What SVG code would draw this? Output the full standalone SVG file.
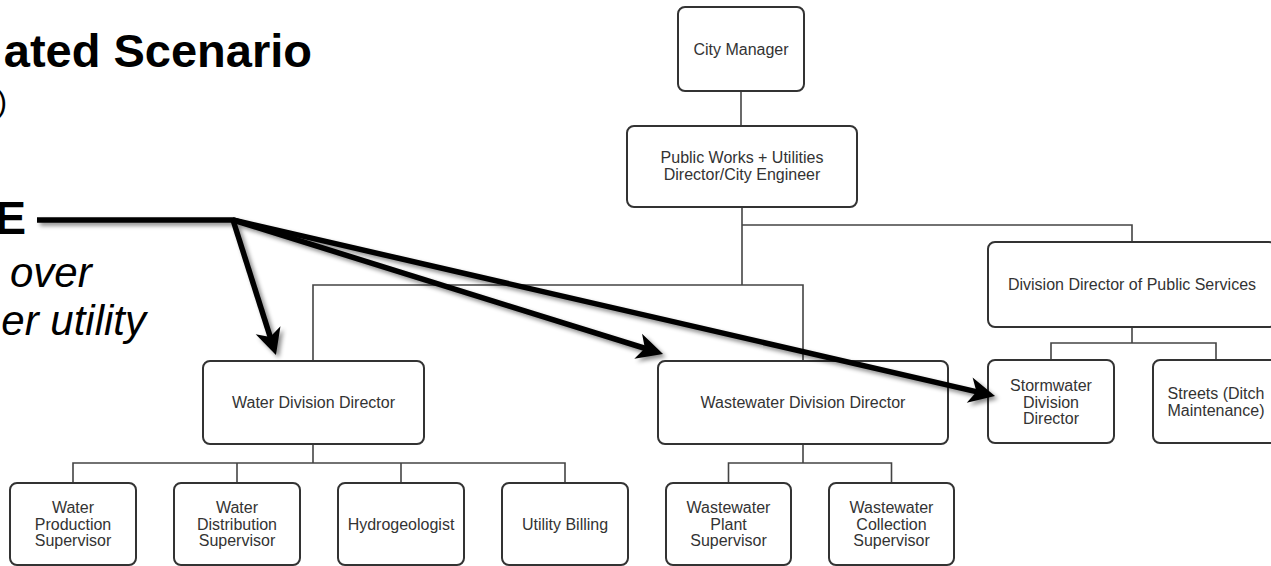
<svg xmlns="http://www.w3.org/2000/svg" width="1271" height="566" viewBox="0 0 1271 566">
<style>
.box{fill:#fff;stroke:#333;stroke-width:2}
.lbl{font-family:"Liberation Sans",Arial,sans-serif;font-size:16px;fill:#333;text-anchor:middle}
.conn{fill:none;stroke:#444;stroke-width:1.6}
.big{font-family:"Liberation Sans",Arial,sans-serif;font-weight:bold;font-size:47px;fill:#000}
.ital{font-family:"Liberation Sans",Arial,sans-serif;font-style:italic;font-size:42px;fill:#000}
.arr{fill:none;stroke:#000;stroke-width:5.5}
</style>
<defs>
<filter id="sh" x="-20%" y="-20%" width="140%" height="140%">
<feDropShadow dx="3" dy="3" stdDeviation="2" flood-color="#000" flood-opacity="0.45"/>
</filter>
<marker id="ah" markerUnits="userSpaceOnUse" viewBox="-14 -15 32 30" refX="0" refY="0" markerWidth="32" markerHeight="30" orient="auto">
<path d="M15,0 L-11,-13 L-4,0 L-11,13 Z" fill="#000"/>
</marker>
</defs>

<text class="big" x="312" y="67" text-anchor="end">ated Scenario</text>
<text x="-3" y="112" style="font-family:'Liberation Sans',Arial,sans-serif;font-size:30px;fill:#000">)</text>
<text class="big" x="26" y="234" text-anchor="end">E</text>
<text class="ital" x="10" y="287">over</text>
<text class="ital" x="146" y="335" text-anchor="end">er utility</text>

<g id="connectors">
<line class="conn" x1="741" y1="91" x2="741" y2="126"/>
<polyline class="conn" points="742,207 742,285"/>
<polyline class="conn" points="742,225 1132,225 1132,242"/>
<polyline class="conn" points="313,360 313,285 803,285 803,361"/>
<polyline class="conn" points="1132,327 1132,343"/>
<polyline class="conn" points="1051,360 1051,343 1216,343 1216,360"/>
<polyline class="conn" points="313,444 313,463"/>
<polyline class="conn" points="73,483 73,463 565,463 565,483"/>
<line class="conn" x1="237" y1="463" x2="237" y2="483"/>
<line class="conn" x1="401" y1="463" x2="401" y2="483"/>
<polyline class="conn" points="803,444 803,463"/>
<polyline class="conn" points="728.5,483 728.5,463 891.5,463 891.5,483"/>
</g>

<g id="n-city"><rect class="box" x="678" y="7" width="126" height="84" rx="7"/><text class="lbl" x="741" y="55">City Manager</text></g>
<g id="n-pw"><rect class="box" x="627" y="126" width="230" height="81" rx="7"/><text class="lbl" x="742" y="163">Public Works + Utilities</text><text class="lbl" x="742" y="180">Director/City Engineer</text></g>
<g id="n-ddps"><rect class="box" x="988" y="242" width="288" height="85" rx="7"/><text class="lbl" x="1132" y="290">Division Director of Public Services</text></g>
<g id="n-storm"><rect class="box" x="988" y="360" width="126" height="83" rx="7"/><text class="lbl" x="1051" y="391">Stormwater</text><text class="lbl" x="1051" y="407.5">Division</text><text class="lbl" x="1051" y="424">Director</text></g>
<g id="n-streets"><rect class="box" x="1153" y="360" width="126" height="83" rx="7"/><text class="lbl" x="1216" y="399">Streets (Ditch</text><text class="lbl" x="1216" y="415.5">Maintenance)</text></g>
<g id="n-water"><rect class="box" x="203" y="361" width="221" height="83" rx="7"/><text class="lbl" x="313.5" y="408">Water Division Director</text></g>
<g id="n-ww"><rect class="box" x="658" y="361" width="290" height="83" rx="7"/><text class="lbl" x="803" y="408">Wastewater Division Director</text></g>
<g id="n-wprod"><rect class="box" x="10" y="483" width="126" height="82" rx="7"/><text class="lbl" x="73" y="513">Water</text><text class="lbl" x="73" y="529.5">Production</text><text class="lbl" x="73" y="546">Supervisor</text></g>
<g id="n-wdist"><rect class="box" x="174" y="483" width="126" height="82" rx="7"/><text class="lbl" x="237" y="513">Water</text><text class="lbl" x="237" y="529.5">Distribution</text><text class="lbl" x="237" y="546">Supervisor</text></g>
<g id="n-hydro"><rect class="box" x="338" y="483" width="126" height="82" rx="7"/><text class="lbl" x="401" y="529.5">Hydrogeologist</text></g>
<g id="n-billing"><rect class="box" x="502" y="483" width="126" height="82" rx="7"/><text class="lbl" x="565" y="529.5">Utility Billing</text></g>
<g id="n-wwplant"><rect class="box" x="666" y="483" width="125" height="82" rx="7"/><text class="lbl" x="728.5" y="513">Wastewater</text><text class="lbl" x="728.5" y="529.5">Plant</text><text class="lbl" x="728.5" y="546">Supervisor</text></g>
<g id="n-wwcoll"><rect class="box" x="829" y="483" width="125" height="82" rx="7"/><text class="lbl" x="891.5" y="513">Wastewater</text><text class="lbl" x="891.5" y="529.5">Collection</text><text class="lbl" x="891.5" y="546">Supervisor</text></g>

<g id="arrows" filter="url(#sh)">
<line class="arr" x1="37" y1="220" x2="234" y2="220"/>
<line class="arr" x1="233" y1="220" x2="271.4" y2="340.7" marker-end="url(#ah)"/>
<line class="arr" x1="233" y1="220" x2="648.7" y2="349.5" marker-end="url(#ah)"/>
<line class="arr" x1="233" y1="220" x2="980.4" y2="392.6" marker-end="url(#ah)"/>
</g>
</svg>
